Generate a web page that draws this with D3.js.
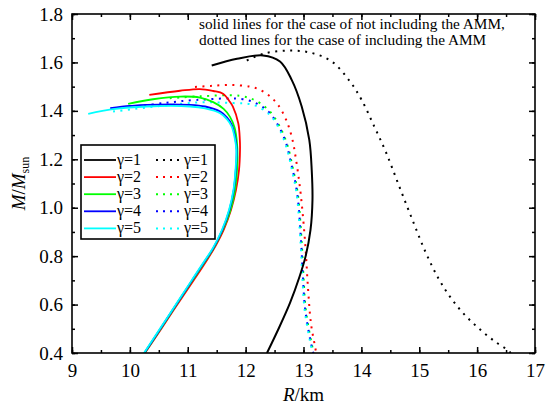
<!DOCTYPE html>
<html><head><meta charset="utf-8">
<script src="https://cdn.jsdelivr.net/npm/d3@7"></script>
<style>body{margin:0;background:#fff}svg{display:block}text{font-family:"Liberation Serif","Times New Roman",serif;fill:#000}</style>
</head><body>
<script>
const xTicks = [9,10,11,12,13,14,15,16,17];
const yTicks = [0.4,0.6,0.8,1.0,1.2,1.4,1.6,1.8];
const gammaLabels = ["γ=1","γ=2","γ=3","γ=4","γ=5"];
const colors = ["#000000","#ff0000","#00ff00","#0000ff","#00ffff"];

// solid: not including AMM  [R(km), M/Msun]
const solid1 = [[11.414,1.587],[11.851,1.615],[12.30,1.629],[12.594,1.604],[12.796,1.528],[12.969,1.418],[13.10,1.280],[13.142,1.156],[13.155,1.032],[13.121,0.908],[13.035,0.798],[12.931,0.715],[12.767,0.607],[12.559,0.495],[12.369,0.40]];
const solid2 = [[10.336,1.466],[10.866,1.483],[11.21,1.49],[11.44,1.482],[11.61,1.471],[11.72,1.44],[11.78,1.417],[11.873,1.349],[11.90,1.28],[11.903,1.239],[11.886,1.156],[11.834,1.074],[11.747,0.991],[11.626,0.912],[11.479,0.842],[11.333,0.784],[11.108,0.702],[10.814,0.598],[10.529,0.495],[10.261,0.40]];
const solid3 = [[9.97,1.429],[10.4,1.448],[10.87,1.459],[11.21,1.455],[11.44,1.436],[11.62,1.408],[11.73,1.375],[11.81,1.33],[11.85,1.27],[11.86,1.20],[11.84,1.12],[11.80,1.05],[11.725,0.98],[11.605,0.908],[11.45,0.834],[11.315,0.784],[11.088,0.702],[10.80,0.598],[10.518,0.495],[10.255,0.40]];
const solid4 = [[9.66,1.411],[10.0,1.42],[10.29,1.425],[11.04,1.425],[11.3,1.418],[11.56,1.397],[11.68,1.372],[11.76,1.342],[11.82,1.29],[11.845,1.239],[11.83,1.156],[11.795,1.074],[11.72,0.991],[11.597,0.908],[11.443,0.834],[11.307,0.784],[11.08,0.702],[10.795,0.598],[10.512,0.495],[10.25,0.40]];
const solid5 = [[9.28,1.388],[9.71,1.407],[10.29,1.418],[11.04,1.418],[11.3,1.41],[11.56,1.390],[11.68,1.365],[11.76,1.335],[11.81,1.29],[11.84,1.239],[11.825,1.156],[11.79,1.074],[11.713,0.991],[11.59,0.908],[11.436,0.834],[11.30,0.784],[11.073,0.702],[10.788,0.598],[10.505,0.495],[10.244,0.40]];

// dotted: including AMM
const dotted1 = [[12.02,1.608],[12.31,1.636],[12.71,1.649],[13.11,1.641],[13.487,1.604],[13.804,1.521],[14.005,1.445],[14.218,1.338],[14.42,1.232],[14.645,1.094],[14.875,0.954],[15.11,0.816],[15.336,0.706],[15.53,0.633],[15.76,0.564],[16.027,0.502],[16.31,0.447],[16.54,0.41],[16.58,0.40]];
const dotted2 = [[11.125,1.499],[11.4,1.503],[11.73,1.507],[12.075,1.500],[12.25,1.487],[12.42,1.46],[12.56,1.425],[12.70,1.363],[12.80,1.29],[12.87,1.20],[12.95,1.06],[13.03,0.85],[13.08,0.66],[13.13,0.52],[13.20,0.426],[13.22,0.40]];
const dotted3 = [[10.69,1.452],[11.21,1.460],[11.90,1.462],[12.19,1.440],[12.42,1.397],[12.59,1.335],[12.72,1.26],[12.81,1.17],[12.90,1.06],[12.97,0.853],[13.00,0.715],[13.04,0.578],[13.14,0.44],[13.18,0.40]];
const dotted4 = [[10.12,1.418],[10.58,1.432],[11.15,1.445],[12.02,1.445],[12.36,1.404],[12.54,1.349],[12.68,1.280],[12.78,1.19],[12.89,1.06],[12.96,0.853],[12.99,0.715],[13.03,0.578],[13.13,0.44],[13.17,0.40]];
const dotted5 = [[9.71,1.397],[10.52,1.42],[11.21,1.435],[11.79,1.432],[12.13,1.425],[12.42,1.383],[12.59,1.321],[12.72,1.238],[12.80,1.156],[12.88,1.06],[12.95,0.853],[12.98,0.715],[13.02,0.578],[13.12,0.44],[13.16,0.40]];

const solidSeries = [solid1,solid2,solid3,solid4,solid5];
const dottedSeries = [dotted1,dotted2,dotted3,dotted4,dotted5];
const noteLines = ["solid lines for the case of not including the AMM,","dotted lines for the case of including the AMM"];

const FONT = "Liberation Serif, Times New Roman, serif";
const W=547,H=406, L=72, R=535, T=14, B=353;
const svg=d3.select("body").append("svg").attr("width",W).attr("height",H).attr("font-family",FONT);
const x=d3.scaleLinear().domain([9,17]).range([L,R]);
const y=d3.scaleLinear().domain([0.4,1.8]).range([B,T]);

svg.append("defs").append("clipPath").attr("id","clip").append("rect").attr("x",L).attr("y",T).attr("width",R-L).attr("height",B-T);

const line=d3.line().x(d=>x(d[0])).y(d=>y(d[1])).curve(d3.curveCatmullRom.alpha(0.5));
const g=svg.append("g").attr("clip-path","url(#clip)");
dottedSeries.forEach((s,i)=>{
  g.append("path").attr("d",line(s)).attr("fill","none").attr("stroke",colors[i])
   .attr("stroke-width",2).attr("stroke-dasharray","2,5.5");
});
solidSeries.forEach((s,i)=>{
  g.append("path").attr("d",line(s)).attr("fill","none").attr("stroke",colors[i])
   .attr("stroke-width",i===0?2:1.8);
});

// axes
const xMinor=d3.range(9,17.01,0.5), yMinor=d3.range(0.4,1.801,0.1);
const ax=svg.append("g");
function addAxis(gen,tx,ty,vals,size,fmt,pad){
  ax.append("g").attr("transform",`translate(${tx},${ty})`)
    .call(gen.tickValues(vals).tickSize(size).tickPadding(pad||3).tickFormat(fmt||""))
    .call(a=>a.select(".domain").remove());
}
addAxis(d3.axisBottom(x),0,B,xMinor,-3);
addAxis(d3.axisBottom(x),0,B,xTicks,-6,d3.format("d"),11);
addAxis(d3.axisTop(x),0,T,xMinor,-3);
addAxis(d3.axisTop(x),0,T,xTicks,-6);
addAxis(d3.axisLeft(y),L,0,yMinor,-3);
addAxis(d3.axisLeft(y),L,0,yTicks,-6,d3.format(".1f"),9);
addAxis(d3.axisRight(y),R,0,yMinor,-3);
addAxis(d3.axisRight(y),R,0,yTicks,-6);
ax.selectAll("g").attr("font-family",FONT);
ax.selectAll(".tick line").attr("stroke","#000").attr("stroke-width",1.5);
ax.selectAll(".tick text").attr("font-size",19).attr("font-family",FONT).attr("fill","#000");
svg.append("rect").attr("x",L).attr("y",T).attr("width",R-L).attr("height",B-T)
  .attr("fill","none").attr("stroke","#000").attr("stroke-width",1.6);

// axis titles
svg.append("text").attr("x",(L+R)/2).attr("y",401).attr("text-anchor","middle").attr("font-size",19)
  .html('<tspan font-style="italic">R</tspan>/km');
svg.append("text").attr("transform",`translate(25,${(T+B)/2}) rotate(-90)`).attr("text-anchor","middle").attr("font-size",19)
  .html('<tspan font-style="italic">M</tspan>/<tspan font-style="italic">M</tspan><tspan font-size="12" dy="4">sun</tspan>');

// note
noteLines.forEach((t,i)=>{
  svg.append("text").attr("x",199).attr("y",29+i*16).attr("font-size",15.3).text(t);
});

// legend
const lg=svg.append("g");
lg.append("rect").attr("x",81).attr("y",145).attr("width",134).attr("height",94)
  .attr("fill","#fff").attr("stroke","#000").attr("stroke-width",1.6);
gammaLabels.forEach((lab,i)=>{
  const yy=160+i*17.1;
  lg.append("line").attr("x1",84).attr("x2",116).attr("y1",yy).attr("y2",yy).attr("stroke",colors[i]).attr("stroke-width",1.8);
  lg.append("text").attr("x",117).attr("y",yy+5).attr("font-size",16).text(lab);
  lg.append("line").attr("x1",156).attr("x2",184).attr("y1",yy).attr("y2",yy).attr("stroke",colors[i]).attr("stroke-width",2).attr("stroke-dasharray","2,5");
  lg.append("text").attr("x",184).attr("y",yy+5).attr("font-size",16).text(lab);
});
</script>
</body></html>
